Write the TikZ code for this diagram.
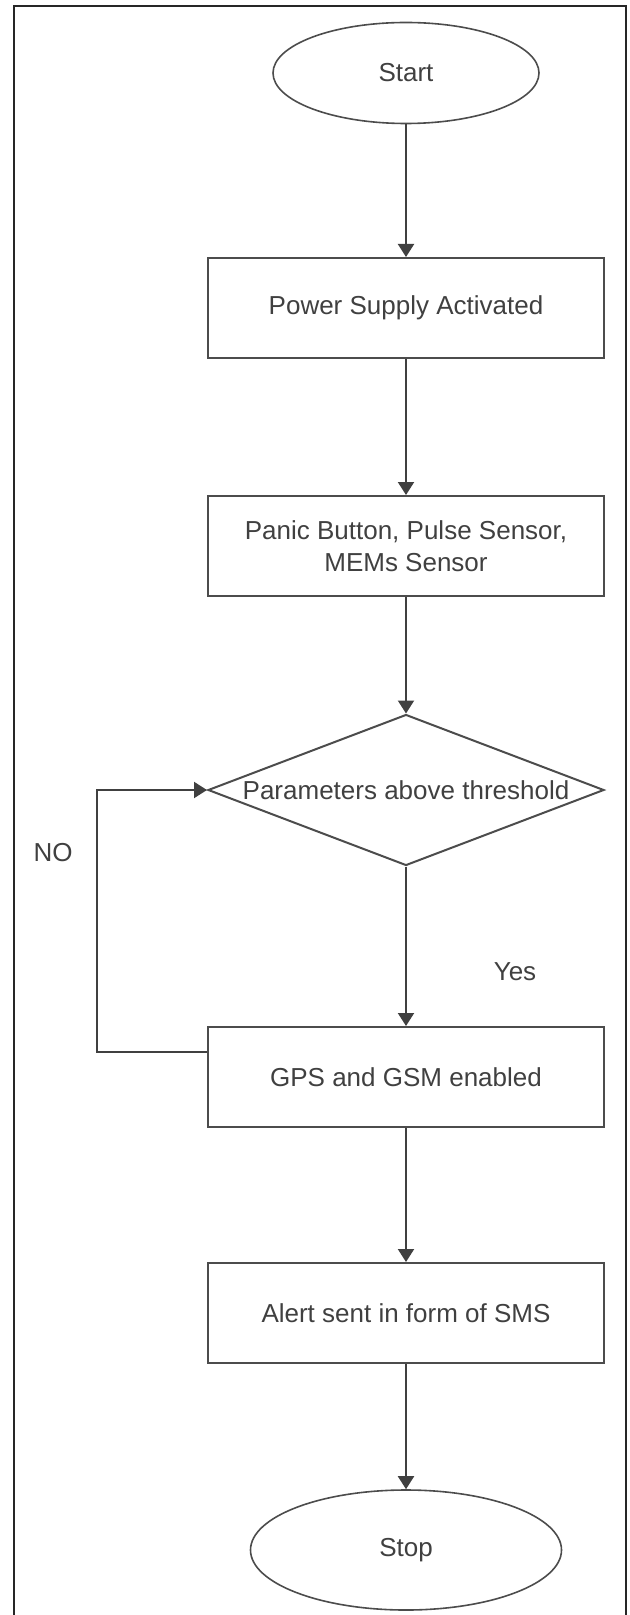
\documentclass[tikz,border=0pt]{standalone}
\usepackage{fontspec}
\setmainfont{Liberation Sans}
\usetikzlibrary{shapes.geometric,arrows.meta}

\tikzset{
  procbox/.style={draw=black!70, line width=1pt, minimum width=198pt, minimum height=50pt, text=black!75, align=center},
  termnode/.style={ellipse, draw=black!70, line width=0.8pt, text=black!75},
  decision/.style={diamond, draw=black!70, line width=1pt, inner sep=0pt, minimum width=198pt, minimum height=75.5pt, text=black!75},
  flow/.style={draw=black!75, line width=1pt, -{Triangle[length=6.5pt,width=8pt]}},
  lbl/.style={text=black!75}
}

\begin{document}
\begin{tikzpicture}[x=0.5pt,y=-0.5pt,font=\fontsize{13}{16}\selectfont]
    \useasboundingbox (0,0) rectangle (629,1615);
    \draw[black!85, line width=1pt] (14,6) rectangle (626,1640);

    \node[termnode, minimum width=133pt, minimum height=50.5pt] (start) at (406,73) {Start};
    \node[procbox] (power)   at (406,308)  {Power Supply Activated};
    \node[procbox] (sensors) at (406,546)  {Panic Button, Pulse Sensor,\\MEMs Sensor};
    \node[decision] (check)  at (406,790)  {\makebox[0pt]{Parameters above threshold}};
    \node[procbox] (gps)     at (406,1077) {GPS and GSM enabled};
    \node[procbox] (alert)   at (406,1313) {Alert sent in form of SMS};
    \node[termnode, minimum width=155.5pt, minimum height=60pt] (stop) at (406,1550) {Stop};

    \node[lbl] (no)  at (53,853)  {NO};
    \node[lbl] (yes) at (515,972) {Yes};

    \draw[flow] (start) -- (power);
    \draw[flow] (power) -- (sensors);
    \draw[flow] (sensors) -- (check);
    \draw[flow] (check) -- (gps);
    \draw[flow] (gps) -- (alert);
    \draw[flow] (alert) -- (stop);
    % back to the check
    \draw[flow] ([yshift=12.5pt]gps.west) -- ++(-110,0) |- (check.west);
\end{tikzpicture}
\end{document}
